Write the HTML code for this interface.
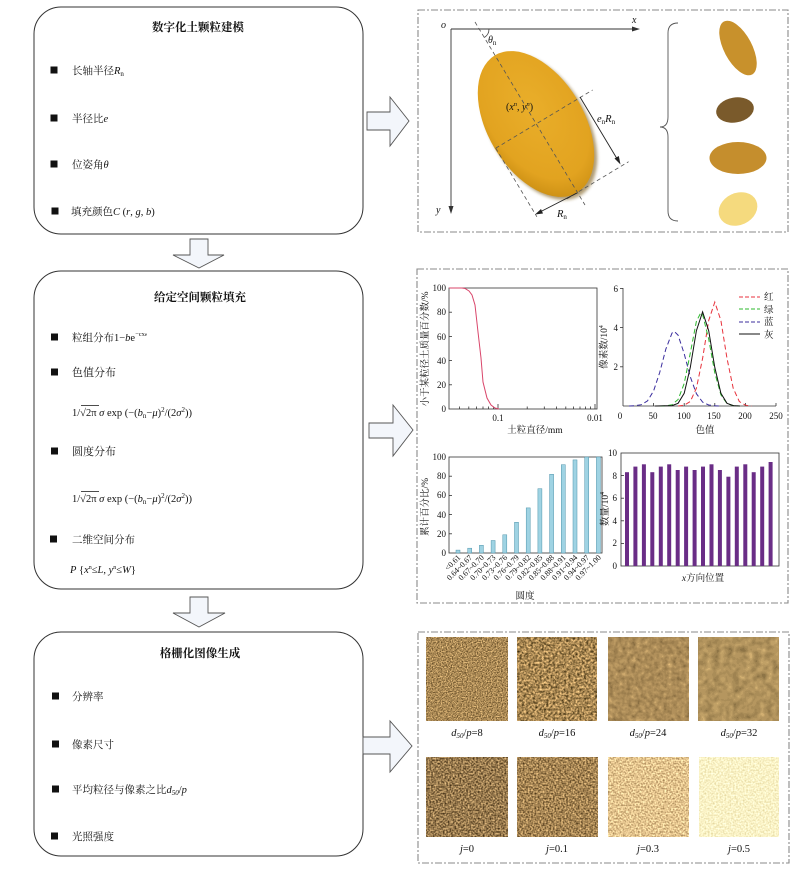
<!DOCTYPE html>
<html><head><meta charset="utf-8"><style>
html,body{margin:0;padding:0;background:#fff;}
svg{display:block;}
text{font-family:"Liberation Serif","Noto Serif CJK SC",serif;fill:#111;}
.it{font-style:italic;}
</style></head><body>
<svg width="802" height="875" viewBox="0 0 802 875" xmlns="http://www.w3.org/2000/svg">
<defs>
<radialGradient id="gold" cx="0.4" cy="0.45" r="0.65">
<stop offset="0" stop-color="#E9AE2A"/><stop offset="0.75" stop-color="#E2A320"/><stop offset="1" stop-color="#C98D12"/>
</radialGradient>
<filter id="blur" x="-0.2" y="-0.2" width="1.4" height="1.4"><feGaussianBlur stdDeviation="1.5"/></filter>
<filter id="f8" x="0" y="0" width="1" height="1" color-interpolation-filters="sRGB"><feTurbulence type="fractalNoise" baseFrequency="0.8" numOctaves="1" seed="1"/><feColorMatrix type="matrix" values="1.2 0 0 0 0.067  1.05 0 0 0 0.012  0.8 0 0 0 -0.067  0 0 0 0 1"/></filter>
<filter id="f16" x="0" y="0" width="1" height="1" color-interpolation-filters="sRGB"><feTurbulence type="fractalNoise" baseFrequency="0.45" numOctaves="2" seed="2"/><feColorMatrix type="matrix" values="1.2 0 0 0 0.059  1.0 0 0 0 0.029  0.75 0 0 0 -0.053  0 0 0 0 1"/></filter>
<filter id="f24" x="0" y="0" width="1" height="1" color-interpolation-filters="sRGB"><feTurbulence type="fractalNoise" baseFrequency="0.22" numOctaves="2" seed="3"/><feComponentTransfer><feFuncR type="discrete" tableValues="0.30 0.38 0.44 0.48 0.52 0.56 0.62 0.70"/></feComponentTransfer><feColorMatrix type="matrix" values="1.1 0 0 0 0.125  0.95 0 0 0 0.074  0.7 0 0 0 -0.005  0 0 0 0 1"/></filter>
<filter id="f32" x="0" y="0" width="1" height="1" color-interpolation-filters="sRGB"><feTurbulence type="fractalNoise" baseFrequency="0.15" numOctaves="2" seed="4"/><feComponentTransfer><feFuncR type="discrete" tableValues="0.30 0.38 0.44 0.48 0.52 0.56 0.62 0.70"/></feComponentTransfer><feColorMatrix type="matrix" values="1.1 0 0 0 0.14  0.95 0 0 0 0.098  0.7 0 0 0 0.011  0 0 0 0 1"/></filter>
<filter id="j0" x="0" y="0" width="1" height="1" color-interpolation-filters="sRGB"><feTurbulence type="fractalNoise" baseFrequency="0.6" numOctaves="1" seed="5"/><feColorMatrix type="matrix" values="1.2 0 0 0 -0.004  1.05 0 0 0 -0.047  0.8 0 0 0 -0.094  0 0 0 0 1"/></filter>
<filter id="j1" x="0" y="0" width="1" height="1" color-interpolation-filters="sRGB"><feTurbulence type="fractalNoise" baseFrequency="0.6" numOctaves="1" seed="6"/><feColorMatrix type="matrix" values="1.2 0 0 0 0.047  1.05 0 0 0 -0.007  0.8 0 0 0 -0.075  0 0 0 0 1"/></filter>
<filter id="j3" x="0" y="0" width="1" height="1" color-interpolation-filters="sRGB"><feTurbulence type="fractalNoise" baseFrequency="0.6" numOctaves="1" seed="7"/><feColorMatrix type="matrix" values="0.9 0 0 0 0.444  0.9 0 0 0 0.319  0.8 0 0 0 0.157  0 0 0 0 1"/></filter>
<filter id="j5" x="0" y="0" width="1" height="1" color-interpolation-filters="sRGB"><feTurbulence type="fractalNoise" baseFrequency="0.6" numOctaves="1" seed="8"/><feColorMatrix type="matrix" values="0.3 0 0 0 0.83  0.35 0 0 0 0.774  0.5 0 0 0 0.526  0 0 0 0 1"/></filter>
</defs>

<g fill="none" stroke="#333" stroke-width="1">
<rect x="34" y="7" width="329" height="227" rx="27"/>
<rect x="34" y="271" width="329" height="318" rx="27"/>
<rect x="34" y="632" width="329" height="224" rx="27"/>
</g>
<g fill="#F3F6FB" stroke="#555" stroke-width="0.9">
<polygon points="367,112 390,112 390,97 409,121 390,146 390,130 367,130"/>
<polygon points="369,423 393,423 393,405 413,430 393,456 393,438 369,438"/>
<polygon points="363,737 390,737 390,721 412,746 390,772 390,754 363,754"/>
<polygon points="190,239 208,239 208,255 224,255 199,268 173,255 190,255"/>
<polygon points="190,597 208,597 208,613 225,613 199,627 173,613 190,613"/>
</g>

<text x="198" y="31" font-size="11.5" font-weight="bold" text-anchor="middle">数字化土颗粒建模</text>
<g fill="#111">
<rect x="50.5" y="66.5" width="7" height="7"/><rect x="50.5" y="114.5" width="7" height="7"/>
<rect x="50.5" y="160.5" width="7" height="7"/><rect x="51.5" y="207.5" width="7" height="7"/>
</g>
<text x="72" y="74" font-size="10.5">长轴半径<tspan class="it">R</tspan><tspan font-size="7" dy="2">n</tspan></text>
<text x="72" y="122" font-size="10.5">半径比<tspan class="it">e</tspan></text>
<text x="72" y="168" font-size="10.5">位姿角<tspan class="it">θ</tspan></text>
<text x="71" y="215" font-size="10.5">填充颜色<tspan class="it">C</tspan> (<tspan class="it">r</tspan>, <tspan class="it">g</tspan>, <tspan class="it">b</tspan>)</text>

<text x="200" y="301" font-size="11.5" font-weight="bold" text-anchor="middle">给定空间颗粒填充</text>
<g fill="#111">
<rect x="51" y="333.5" width="7" height="7"/><rect x="51" y="368.5" width="7" height="7"/>
<rect x="51" y="447.5" width="7" height="7"/><rect x="50" y="535.5" width="7" height="7"/>
</g>
<text x="72" y="341" font-size="10.5">粒组分布1−<tspan class="it">b</tspan>e<tspan font-size="6.5" dy="-5">−cx<tspan font-size="5">e</tspan></tspan></text>
<text x="72" y="376" font-size="11">色值分布</text>
<text x="72" y="416" font-size="10.5">1/√<tspan>2π</tspan> <tspan class="it">σ</tspan> exp (−(<tspan class="it">b</tspan><tspan font-size="7" dy="2">n</tspan><tspan dy="-2">−</tspan><tspan class="it">μ</tspan>)<tspan font-size="7" dy="-4">2</tspan><tspan dy="4">/(2</tspan><tspan class="it">σ</tspan><tspan font-size="7" dy="-4">2</tspan><tspan dy="4">))</tspan></text>
<line x1="81" y1="405.5" x2="99" y2="405.5" stroke="#111" stroke-width="0.7"/>
<text x="72" y="455" font-size="11">圆度分布</text>
<text x="72" y="502" font-size="10.5">1/√<tspan>2π</tspan> <tspan class="it">σ</tspan> exp (−(<tspan class="it">b</tspan><tspan font-size="7" dy="2">n</tspan><tspan dy="-2">−</tspan><tspan class="it">μ</tspan>)<tspan font-size="7" dy="-4">2</tspan><tspan dy="4">/(2</tspan><tspan class="it">σ</tspan><tspan font-size="7" dy="-4">2</tspan><tspan dy="4">))</tspan></text>
<line x1="81" y1="491.5" x2="99" y2="491.5" stroke="#111" stroke-width="0.7"/>
<text x="72" y="543" font-size="10.5">二维空间分布</text>
<text x="70" y="573" font-size="10.5"><tspan class="it">P</tspan> {<tspan class="it">x</tspan><tspan font-size="6" dy="-4">n</tspan><tspan dy="4">≤</tspan><tspan class="it">L</tspan>, <tspan class="it">y</tspan><tspan font-size="6" dy="-4">n</tspan><tspan dy="4">≤</tspan><tspan class="it">W</tspan>}</text>

<text x="200" y="657" font-size="11.5" font-weight="bold" text-anchor="middle">格栅化图像生成</text>
<g fill="#111">
<rect x="52" y="692.5" width="7" height="7"/><rect x="52" y="740.5" width="7" height="7"/>
<rect x="52" y="785.5" width="7" height="7"/><rect x="51" y="832.5" width="7" height="7"/>
</g>
<text x="72" y="700" font-size="10.5">分辨率</text>
<text x="72" y="748" font-size="10.5">像素尺寸</text>
<text x="72" y="793" font-size="10.5">平均粒径与像素之比<tspan class="it">d</tspan><tspan font-size="7" dy="2" class="it">50</tspan><tspan dy="-2">/</tspan><tspan class="it">p</tspan></text>
<text x="72" y="840" font-size="10.5">光照强度</text>

<g fill="none" stroke="#8a8a8a" stroke-width="1.1" stroke-dasharray="7,2,2,2">
<rect x="418" y="10" width="370" height="222"/>
<rect x="417" y="269" width="371" height="334"/>
<rect x="418" y="632" width="371" height="231"/>
</g>

<g stroke="#333" stroke-width="0.9" fill="#333">
<line x1="451" y1="29" x2="635" y2="29"/><polygon points="640,29 632,26.5 632,31.5" stroke="none"/>
<line x1="451" y1="29" x2="451" y2="209"/><polygon points="451,214 448.5,206 453.5,206" stroke="none"/>
</g>
<text x="632" y="23" font-size="10" class="it">x</text>
<text x="441" y="28" font-size="10" class="it">o</text>
<text x="436" y="213" font-size="10" class="it">y</text>
<path d="M489,29 A10,10 0 0,1 484.2,37.6" fill="none" stroke="#444" stroke-width="0.8"/>
<text x="488" y="43" font-size="10"><tspan class="it">θ</tspan><tspan font-size="7" dy="2">n</tspan></text>
<ellipse cx="539" cy="127" rx="80" ry="48" transform="rotate(59 539 127)" fill="#7a5a18" opacity="0.6" filter="url(#blur)"/>
<ellipse cx="536" cy="124" rx="80" ry="48" transform="rotate(59 536 124)" fill="url(#gold)"/>
<g stroke="#555" stroke-width="0.8" stroke-dasharray="4,3" fill="none">
<line x1="475" y1="22" x2="585" y2="205"/>
<line x1="495.7" y1="148.2" x2="592.6" y2="90"/>
<line x1="495.7" y1="148.2" x2="536.9" y2="216.8"/>
<line x1="566.9" y1="198.8" x2="628.6" y2="161.7"/>
</g>
<g stroke="#222" stroke-width="0.9" fill="#222">
<line x1="580" y1="97" x2="619" y2="162"/><polygon points="620.5,164.5 614.5,158.5 618.8,156" stroke="none"/>
<line x1="577" y1="193" x2="538" y2="213"/><polygon points="535,214.5 541,209 543,213.5" stroke="none"/>
</g>
<text x="506" y="110" font-size="10">(<tspan class="it">x</tspan><tspan font-size="6.5" dy="-4" class="it">n</tspan><tspan dy="4">, </tspan><tspan class="it">y</tspan><tspan font-size="6.5" dy="-4" class="it">n</tspan><tspan dy="4">)</tspan></text>
<text x="597" y="122" font-size="10.5"><tspan class="it">e</tspan><tspan font-size="7" dy="2">n</tspan><tspan dy="-2" class="it">R</tspan><tspan font-size="7" dy="2">n</tspan></text>
<text x="557" y="217" font-size="10.5"><tspan class="it">R</tspan><tspan font-size="7" dy="2">n</tspan></text>
<path d="M678,23 Q668,23 668,33 L668,117 Q668,127 660,127 Q668,127 668,137 L668,211 Q668,221 678,221" fill="none" stroke="#555" stroke-width="0.9"/>
<ellipse cx="738" cy="48" rx="30" ry="14" transform="rotate(62 738 48)" fill="#C8912C"/>
<ellipse cx="735" cy="110" rx="19" ry="12.5" transform="rotate(-10 735 110)" fill="#7A5A2B"/>
<ellipse cx="738" cy="158" rx="28.5" ry="16" fill="#C58E2D"/>
<ellipse cx="738" cy="209" rx="20" ry="16" transform="rotate(-25 738 209)" fill="#F5DA7E"/>

<rect x="449" y="288" width="148" height="121" fill="none" stroke="#333" stroke-width="0.8"/>
<g stroke="#333" stroke-width="0.8">
<line x1="449" y1="312.2" x2="452" y2="312.2"/><line x1="449" y1="336.4" x2="452" y2="336.4"/><line x1="449" y1="360.6" x2="452" y2="360.6"/><line x1="449" y1="384.8" x2="452" y2="384.8"/>
<line x1="498" y1="409" x2="498" y2="404"/><line x1="595" y1="409" x2="595" y2="404"/>
<line x1="459.4" y1="409" x2="459.4" y2="406.5"/><line x1="468.8" y1="409" x2="468.8" y2="406.5"/><line x1="476.5" y1="409" x2="476.5" y2="406.5"/><line x1="483" y1="409" x2="483" y2="406.5"/><line x1="488.6" y1="409" x2="488.6" y2="406.5"/><line x1="493.6" y1="409" x2="493.6" y2="406.5"/>
<line x1="527.2" y1="409" x2="527.2" y2="406.5"/><line x1="544.3" y1="409" x2="544.3" y2="406.5"/><line x1="556.4" y1="409" x2="556.4" y2="406.5"/><line x1="565.8" y1="409" x2="565.8" y2="406.5"/><line x1="573.5" y1="409" x2="573.5" y2="406.5"/><line x1="580" y1="409" x2="580" y2="406.5"/><line x1="585.6" y1="409" x2="585.6" y2="406.5"/><line x1="590.6" y1="409" x2="590.6" y2="406.5"/>
</g>
<g font-size="9" text-anchor="end">
<text x="446" y="291">100</text><text x="446" y="315">80</text><text x="446" y="340">60</text><text x="446" y="364">40</text><text x="446" y="388">20</text><text x="446" y="412">0</text>
</g>
<g font-size="9" text-anchor="middle"><text x="498" y="421">0.1</text><text x="595" y="421">0.01</text></g>
<text x="535" y="433" font-size="9.5" text-anchor="middle">土粒直径/mm</text>
<text transform="translate(428 349) rotate(-90)" font-size="9.5" text-anchor="middle">小于某粒径土质量百分数/%</text>
<polyline points="449,288 462,288 465,288.5 469,291 472,295 475,305 478,332 481,358 483,382 487,398 491,405 495,408 499,409" fill="none" stroke="#D9456A" stroke-width="1"/>

<g stroke="#333" stroke-width="0.8">
<line x1="623" y1="288" x2="623" y2="406"/><line x1="623" y1="406" x2="776" y2="406"/>
<line x1="620" y1="288.4" x2="623" y2="288.4"/><line x1="620" y1="327.6" x2="623" y2="327.6"/><line x1="620" y1="366.8" x2="623" y2="366.8"/>
<line x1="653.6" y1="406" x2="653.6" y2="403"/><line x1="684.2" y1="406" x2="684.2" y2="403"/><line x1="714.8" y1="406" x2="714.8" y2="403"/><line x1="745.4" y1="406" x2="745.4" y2="403"/><line x1="776" y1="406" x2="776" y2="403"/>
</g>
<g font-size="9" text-anchor="end"><text x="618" y="292">6</text><text x="618" y="331">4</text><text x="618" y="370">2</text></g>
<g font-size="9" text-anchor="middle"><text x="620" y="419">0</text><text x="653" y="419">50</text><text x="684" y="419">100</text><text x="714" y="419">150</text><text x="745" y="419">200</text><text x="776" y="419">250</text></g>
<text x="705" y="433" font-size="9.5" text-anchor="middle">色值</text>
<text transform="translate(607 347) rotate(-90)" font-size="9.5" text-anchor="middle">像素数/10<tspan font-size="6" dy="-4">4</tspan></text>
<polyline fill="none" stroke="#3B2E9E" stroke-width="1" stroke-dasharray="5,3" points="629,406 635.2,405.7 641.4,404.7 647.5,400.9 653.6,390.9 659.7,372.5 665.8,349.2 672,333.1 674.4,331.5 678.1,335.2 684.2,353.7 690.3,376.8 696.4,393.7 702.6,402.1 708.7,405 714.8,405.8 720,406"/>
<polyline fill="none" stroke="#E8323C" stroke-width="1" stroke-dasharray="5,3" points="678,406 684.2,405.2 690.3,401.5 696.4,388.2 702.6,358.4 708.7,320.5 714.8,302.1 720.9,320.5 727,358.4 733.2,388.2 739.3,401.5 745.4,405.2 751.5,406"/>
<polyline fill="none" stroke="#2DB82D" stroke-width="1" stroke-dasharray="5,3" points="660,406 665.8,405.9 672,404.7 678.1,399.5 684.2,383.5 690.3,353.1 696.4,321.3 700.7,312.9 702.6,314.5 708.7,339 714.8,372.9 720.9,394.8 727,403.5 733.2,405.6 740,406"/>
<polyline fill="none" stroke="#111" stroke-width="1" points="655,406 665.8,405.8 672,405.6 678.1,403.3 684.2,393.3 690.3,367.4 696.4,330.7 702.6,311.9 708.7,330.7 714.8,367.4 720.9,393.3 727,403.3 733.2,405.6 740,406"/>
<g stroke-width="1" stroke-dasharray="4,2">
<line x1="739" y1="297" x2="760" y2="297" stroke="#E8323C"/>
<line x1="739" y1="309" x2="760" y2="309" stroke="#2DB82D"/>
<line x1="739" y1="322" x2="760" y2="322" stroke="#3B2E9E"/>
</g>
<line x1="739" y1="334" x2="760" y2="334" stroke="#111" stroke-width="1"/>
<g font-size="9.5"><text x="764" y="300">红</text><text x="764" y="313">绿</text><text x="764" y="325">蓝</text><text x="764" y="338">灰</text></g>

<rect x="449" y="457" width="153" height="96" fill="none" stroke="#333" stroke-width="0.8"/>
<g stroke="#333" stroke-width="0.8">
<line x1="449" y1="476.2" x2="452" y2="476.2"/><line x1="449" y1="495.4" x2="452" y2="495.4"/><line x1="449" y1="514.6" x2="452" y2="514.6"/><line x1="449" y1="533.8" x2="452" y2="533.8"/>
</g>
<g font-size="9" text-anchor="end">
<text x="446" y="460">100</text><text x="446" y="479">80</text><text x="446" y="498">60</text><text x="446" y="518">40</text><text x="446" y="537">20</text><text x="446" y="556">0</text>
</g>
<g fill="#9FD3E3" stroke="#4E93AB" stroke-width="0.5">
<rect x="456" y="550.1" width="4" height="2.9"/>
<rect x="467.7" y="548.2" width="4" height="4.8"/>
<rect x="479.4" y="545.3" width="4" height="7.7"/>
<rect x="491.1" y="540.5" width="4" height="12.5"/>
<rect x="502.8" y="534.8" width="4" height="18.2"/>
<rect x="514.5" y="522.3" width="4" height="30.7"/>
<rect x="526.2" y="507.9" width="4" height="45.1"/>
<rect x="537.9" y="488.7" width="4" height="64.3"/>
<rect x="549.6" y="474.3" width="4" height="78.7"/>
<rect x="561.3" y="464.7" width="4" height="88.3"/>
<rect x="573" y="459.9" width="4" height="93.1"/>
<rect x="584.7" y="457" width="4" height="96"/>
<rect x="596.4" y="457" width="4" height="96"/>
</g>
<g font-size="8">
<text transform="translate(461 558) rotate(-45)" text-anchor="end">&lt;0.61</text>
<text transform="translate(472.7 558) rotate(-45)" text-anchor="end">0.64~0.67</text>
<text transform="translate(484.4 558) rotate(-45)" text-anchor="end">0.67~0.70</text>
<text transform="translate(496.1 558) rotate(-45)" text-anchor="end">0.70~0.73</text>
<text transform="translate(507.8 558) rotate(-45)" text-anchor="end">0.73~0.76</text>
<text transform="translate(519.5 558) rotate(-45)" text-anchor="end">0.76~0.79</text>
<text transform="translate(531.2 558) rotate(-45)" text-anchor="end">0.79~0.82</text>
<text transform="translate(542.9 558) rotate(-45)" text-anchor="end">0.82~0.85</text>
<text transform="translate(554.6 558) rotate(-45)" text-anchor="end">0.85~0.88</text>
<text transform="translate(566.3 558) rotate(-45)" text-anchor="end">0.88~0.91</text>
<text transform="translate(578 558) rotate(-45)" text-anchor="end">0.91~0.94</text>
<text transform="translate(589.7 558) rotate(-45)" text-anchor="end">0.94~0.97</text>
<text transform="translate(601.4 558) rotate(-45)" text-anchor="end">0.97~1.00</text>
</g>
<text x="525" y="599" font-size="9.5" text-anchor="middle">圆度</text>
<text transform="translate(428 507) rotate(-90)" font-size="9.5" text-anchor="middle">累计百分比/%</text>

<rect x="621" y="453" width="158" height="113" fill="none" stroke="#333" stroke-width="0.8"/>
<g stroke="#333" stroke-width="0.8">
<line x1="621" y1="475.6" x2="624" y2="475.6"/><line x1="621" y1="498.2" x2="624" y2="498.2"/><line x1="621" y1="520.8" x2="624" y2="520.8"/><line x1="621" y1="543.4" x2="624" y2="543.4"/>
</g>
<g font-size="9" text-anchor="end">
<text x="617" y="456">10</text><text x="617" y="479">8</text><text x="617" y="501">6</text><text x="617" y="524">4</text><text x="617" y="546">2</text><text x="617" y="569">0</text>
</g>
<g fill="#6A2D86">
<rect x="625" y="472.2" width="4" height="93.8"/>
<rect x="633.4" y="466.6" width="4" height="99.4"/>
<rect x="641.9" y="464.3" width="4" height="101.7"/>
<rect x="650.3" y="472.2" width="4" height="93.8"/>
<rect x="658.8" y="466.6" width="4" height="99.4"/>
<rect x="667.2" y="464.3" width="4" height="101.7"/>
<rect x="675.7" y="470" width="4" height="96"/>
<rect x="684.1" y="466.6" width="4" height="99.4"/>
<rect x="692.6" y="470" width="4" height="96"/>
<rect x="701" y="466.6" width="4" height="99.4"/>
<rect x="709.5" y="464.3" width="4" height="101.7"/>
<rect x="717.9" y="470" width="4" height="96"/>
<rect x="726.4" y="476.7" width="4" height="89.3"/>
<rect x="734.8" y="466.6" width="4" height="99.4"/>
<rect x="743.3" y="464.3" width="4" height="101.7"/>
<rect x="751.7" y="472.2" width="4" height="93.8"/>
<rect x="760.2" y="466.6" width="4" height="99.4"/>
<rect x="768.6" y="462" width="4" height="104"/>
</g>
<text x="703" y="581" font-size="9.5" text-anchor="middle"><tspan class="it">x</tspan>方向位置</text>
<text transform="translate(608 509) rotate(-90)" font-size="9.5" text-anchor="middle">数量/10<tspan font-size="6" dy="-4">4</tspan></text>

<rect x="426" y="637" width="82" height="84" filter="url(#f8)"/>
<rect x="517" y="637" width="80" height="84" filter="url(#f16)"/>
<rect x="608" y="637" width="81" height="84" filter="url(#f24)"/>
<rect x="698" y="637" width="81" height="84" filter="url(#f32)"/>
<rect x="426" y="757" width="82" height="80" filter="url(#j0)"/>
<rect x="517" y="757" width="81" height="80" filter="url(#j1)"/>
<rect x="608" y="757" width="81" height="80" filter="url(#j3)"/>
<rect x="699" y="757" width="80" height="80" filter="url(#j5)"/>
<g font-size="10.5" text-anchor="middle">
<text x="467" y="736"><tspan class="it">d</tspan><tspan font-size="7" dy="2" class="it">50</tspan><tspan dy="-2">/</tspan><tspan class="it">p</tspan>=8</text>
<text x="557" y="736"><tspan class="it">d</tspan><tspan font-size="7" dy="2" class="it">50</tspan><tspan dy="-2">/</tspan><tspan class="it">p</tspan>=16</text>
<text x="648" y="736"><tspan class="it">d</tspan><tspan font-size="7" dy="2" class="it">50</tspan><tspan dy="-2">/</tspan><tspan class="it">p</tspan>=24</text>
<text x="739" y="736"><tspan class="it">d</tspan><tspan font-size="7" dy="2" class="it">50</tspan><tspan dy="-2">/</tspan><tspan class="it">p</tspan>=32</text>
<text x="467" y="852"><tspan class="it">j</tspan>=0</text>
<text x="557" y="852"><tspan class="it">j</tspan>=0.1</text>
<text x="648" y="852"><tspan class="it">j</tspan>=0.3</text>
<text x="739" y="852"><tspan class="it">j</tspan>=0.5</text>
</g>
</svg>
</body></html>
